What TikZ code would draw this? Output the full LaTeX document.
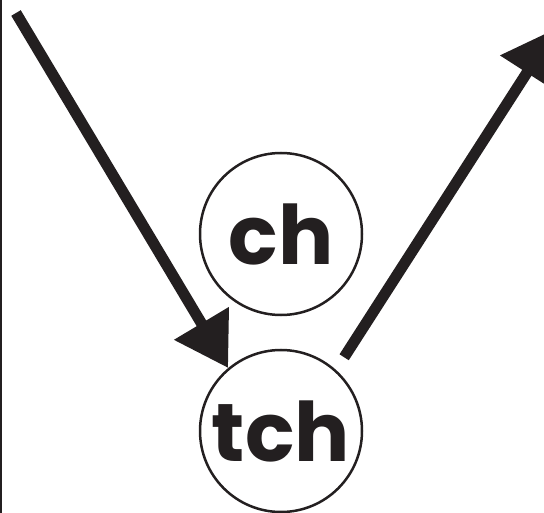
\documentclass[tikz,border=0pt]{standalone}
\usepackage{fontspec}
\setmainfont{Poppins}
\usetikzlibrary{arrows.meta}
\definecolor{ink}{RGB}{35,31,32}
\tikzset{sound/.style={draw=ink,line width=2.5pt,circle,minimum size=162pt,inner sep=0pt,
           font=\fontsize{82}{82}\selectfont\bfseries,text=ink},
         bigarrow/.style={draw=ink,fill=ink,line width=11pt,-{Triangle[length=52pt,width=61pt]}}}
\begin{document}
\begin{tikzpicture}[x=1pt,y=-1pt]
\useasboundingbox (0,0) rectangle (544,513);
\clip (0,0) rectangle (544,513);
\draw[ink,line width=1.5pt] (0.75,0)--(0.75,513);
\node[sound] (ch) at (281,234) {ch};
\node[sound] (tch) at (281,431) {tch};
\coordinate (in) at (16,13);
\coordinate (out) at (555,29);
\draw[bigarrow] (in) -- (tch.130);
\draw[bigarrow,shorten <=15pt] (tch.48) -- (out);
\end{tikzpicture}
\end{document}
